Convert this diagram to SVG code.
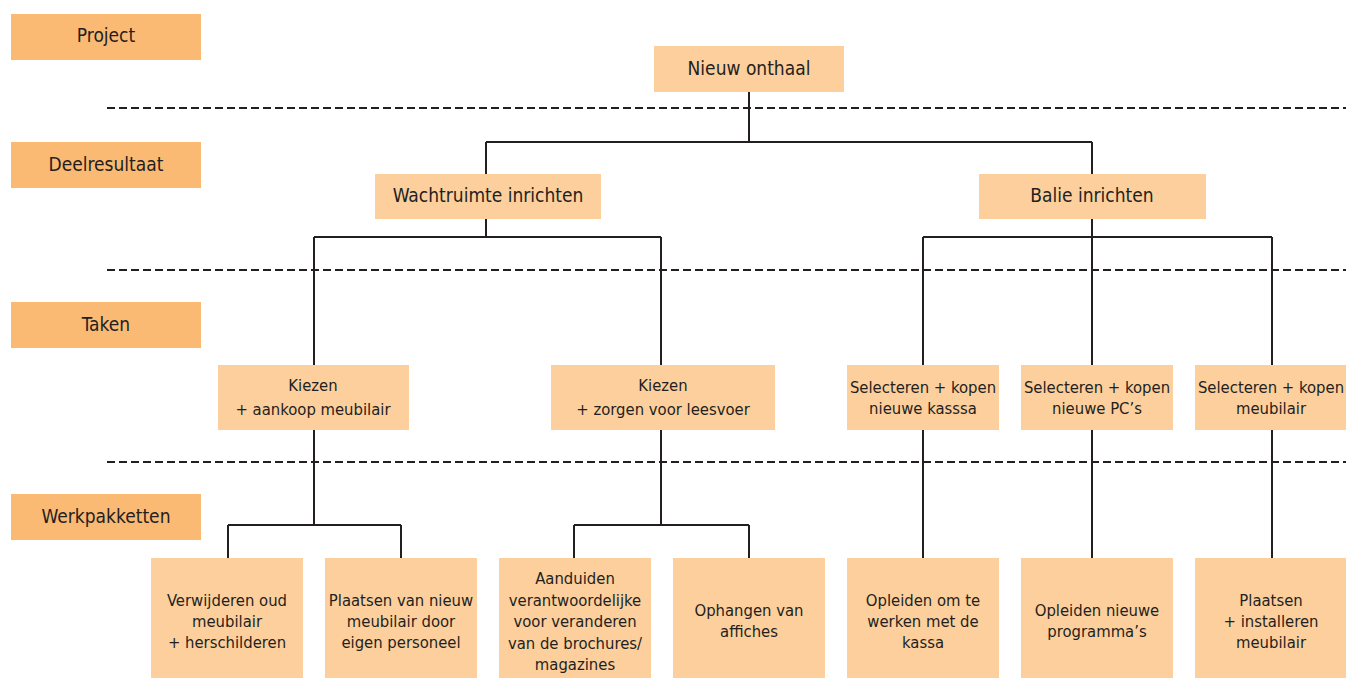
<svg xmlns="http://www.w3.org/2000/svg" width="1346" height="679" viewBox="0 0 1346 679">
<style>
.lbl{fill:#FBBA74}
.nd{fill:#FDCF9C}
text{font-family:"Liberation Sans Narrow","DejaVu Sans Condensed","Liberation Sans",sans-serif;fill:#231F20;text-anchor:middle;dominant-baseline:central}
.t1{font-size:19px}
.t2{font-size:16.5px}
.dash{stroke:#231F20;stroke-width:2;stroke-dasharray:8 4;fill:none}
.ln{stroke:#231F20;stroke-width:2;fill:none}
</style>
<rect width="1346" height="679" fill="#fff"/>
<g id="levels">
<g id="lvl-project"><rect class="lbl" x="11" y="14" width="190" height="46"/><text class="t1" x="106" y="35">Project</text></g>
<g id="lvl-deel"><rect class="lbl" x="11" y="142" width="190" height="46"/><text class="t1" x="106" y="164">Deelresultaat</text></g>
<g id="lvl-taken"><rect class="lbl" x="11" y="302" width="190" height="46"/><text class="t1" x="106" y="324">Taken</text></g>
<g id="lvl-werk"><rect class="lbl" x="11" y="494" width="190" height="46"/><text class="t1" x="106" y="516">Werkpakketten</text></g>
</g>
<g id="dividers">
<line class="dash" x1="107" y1="108" x2="1346" y2="108"/>
<line class="dash" x1="107" y1="270" x2="1346" y2="270"/>
<line class="dash" x1="107" y1="462" x2="1346" y2="462"/>
</g>
<g id="connectors">
<path class="ln" d="M749 92V142M486 142H1092M486 142V174M1092 142V174"/>
<path class="ln" d="M486 219V237M314 237H661M314 237V365M661 237V365"/>
<path class="ln" d="M1092 219V365M923 237H1272M923 237V365M1272 237V365"/>
<path class="ln" d="M314 430V525M228 525H401M228 525V558M401 525V558"/>
<path class="ln" d="M661 430V525M574 525H749M574 525V558M749 525V558"/>
<path class="ln" d="M923 430V558M1092 430V558M1272 430V558"/>
</g>
<g id="n-root"><rect class="nd" x="654" y="46" width="190" height="46"/><text class="t1" x="749" y="68">Nieuw onthaal</text></g>
<g id="n-wacht"><rect class="nd" x="375" y="174" width="226" height="45"/><text class="t1" x="488" y="195">Wachtruimte inrichten</text></g>
<g id="n-balie"><rect class="nd" x="979" y="174" width="227" height="45"/><text class="t1" x="1092" y="195">Balie inrichten</text></g>
<g id="n-kiezen1"><rect class="nd" x="218" y="365" width="191" height="65"/><text class="t2" x="313" y="385">Kiezen</text><text class="t2" x="313" y="409">+ aankoop meubilair</text></g>
<g id="n-kiezen2"><rect class="nd" x="551" y="365" width="224" height="65"/><text class="t2" x="663" y="385">Kiezen</text><text class="t2" x="663" y="409">+ zorgen voor leesvoer</text></g>
<g id="n-sel1"><rect class="nd" x="847" y="365" width="152" height="65"/><text class="t2" x="923" y="387">Selecteren + kopen</text><text class="t2" x="923" y="408">nieuwe kasssa</text></g>
<g id="n-sel2"><rect class="nd" x="1021" y="365" width="152" height="65"/><text class="t2" x="1097" y="387">Selecteren + kopen</text><text class="t2" x="1097" y="408">nieuwe PC’s</text></g>
<g id="n-sel3"><rect class="nd" x="1195" y="365" width="151" height="65"/><text class="t2" x="1271" y="387">Selecteren + kopen</text><text class="t2" x="1271" y="408">meubilair</text></g>
<g id="w-verw"><rect class="nd" x="151" y="558" width="152" height="120"/><text class="t2" x="227" y="600">Verwijderen oud</text><text class="t2" x="227" y="621">meubilair</text><text class="t2" x="227" y="642">+ herschilderen</text></g>
<g id="w-plaats"><rect class="nd" x="325" y="558" width="152" height="120"/><text class="t2" x="401" y="600">Plaatsen van nieuw</text><text class="t2" x="401" y="621">meubilair door</text><text class="t2" x="401" y="642">eigen personeel</text></g>
<g id="w-aand"><rect class="nd" x="499" y="558" width="152" height="120"/><text class="t2" x="575" y="578">Aanduiden</text><text class="t2" x="575" y="600">verantwoordelijke</text><text class="t2" x="575" y="621">voor veranderen</text><text class="t2" x="575" y="643">van de brochures/</text><text class="t2" x="575" y="664">magazines</text></g>
<g id="w-ophang"><rect class="nd" x="673" y="558" width="152" height="120"/><text class="t2" x="749" y="610">Ophangen van</text><text class="t2" x="749" y="631">affiches</text></g>
<g id="w-opl1"><rect class="nd" x="847" y="558" width="152" height="120"/><text class="t2" x="923" y="600">Opleiden om te</text><text class="t2" x="923" y="621">werken met de</text><text class="t2" x="923" y="642">kassa</text></g>
<g id="w-opl2"><rect class="nd" x="1021" y="558" width="152" height="120"/><text class="t2" x="1097" y="610">Opleiden nieuwe</text><text class="t2" x="1097" y="631">programma’s</text></g>
<g id="w-plaats2"><rect class="nd" x="1195" y="558" width="151" height="120"/><text class="t2" x="1271" y="600">Plaatsen</text><text class="t2" x="1271" y="621">+ installeren</text><text class="t2" x="1271" y="642">meubilair</text></g>
</svg>
